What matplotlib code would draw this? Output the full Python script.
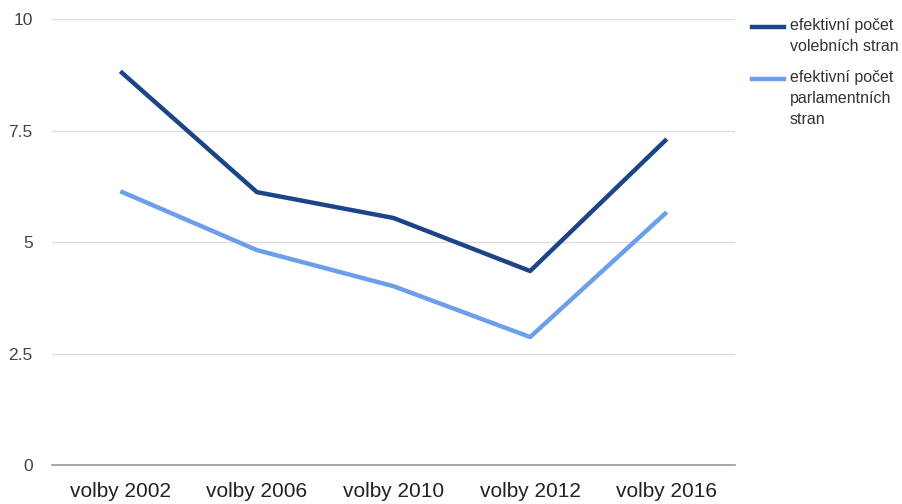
import matplotlib
matplotlib.use("Agg")
import matplotlib.pyplot as plt

plt.rcParams["font.family"] = ["Liberation Sans", "DejaVu Sans"]

CATS = ["volby 2002", "volby 2006", "volby 2010", "volby 2012", "volby 2016"]
VOLEBNI = [8.83, 6.12, 5.54, 4.35, 7.31]
PARLAMENTNI = [6.14, 4.82, 4.01, 2.87, 5.67]
LABELS = ["efektivní počet\nvolebních stran", "efektivní počet\nparlamentních\nstran"]

DARK = "#1c4587"; LIGHT = "#6d9eeb"

fig = plt.figure(figsize=(9.03, 5.04), dpi=100)
ax = fig.add_axes([0.0576, 0.0774, 0.7564, 0.8846])

x = range(len(CATS))
ax.plot(x, VOLEBNI, color=DARK, linewidth=3.2, solid_capstyle="butt")
ax.plot(x, PARLAMENTNI, color=LIGHT, linewidth=3.2, solid_capstyle="butt")

ax.set_xlim(-0.5, len(CATS) - 0.5)
ax.set_ylim(0, 10)
ax.set_yticks([0, 2.5, 5, 7.5, 10])
ax.set_yticklabels(["0", "2.5", "5", "7.5", "10"])
ax.set_xticks(list(x))
ax.set_xticklabels(CATS)
ax.tick_params(axis="x", length=0, pad=12.5, labelsize=15, labelcolor="#222222")
ax.tick_params(axis="y", length=0, pad=14, labelsize=12.5, labelcolor="#444444")
ax.yaxis.grid(True, color="#dddddd", linewidth=1)
ax.set_axisbelow(True)
for s in ["top", "right", "left"]:
    ax.spines[s].set_visible(False)
ax.spines["bottom"].set_color("#999999")
ax.spines["bottom"].set_linewidth(1.2)

# legend drawn by hand in figure coords
for i, (lab, col) in enumerate(zip(LABELS, [DARK, LIGHT])):
    yf = 1 - [27, 79][i] / 504
    fig.add_artist(plt.Line2D([752 / 903, 784 / 903], [yf, yf], color=col, linewidth=3.2,
                              transform=fig.transFigure))
    fig.text(790 / 903, yf + 9 / 504, lab, fontsize=11.5, color="#333333", va="top",
             linespacing=1.5)

fig.savefig("out.png", dpi=100)
